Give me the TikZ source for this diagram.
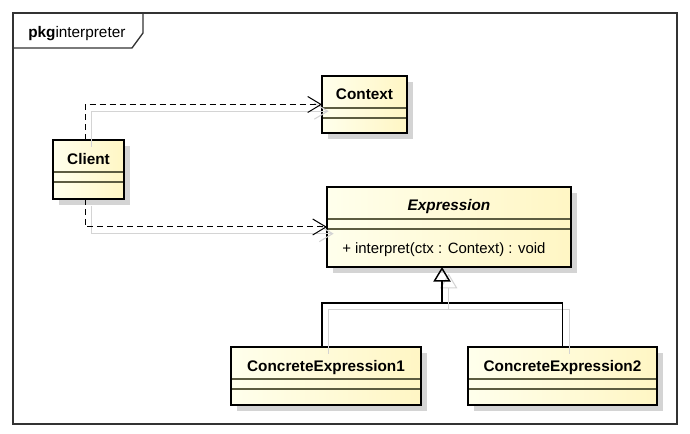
\documentclass[tikz,border=0pt]{standalone}
\usepackage{fontspec}
\setmainfont{Liberation Sans}
\usepackage{xcolor}
\usepackage{tikz}
\usetikzlibrary{arrows.meta,shadows,calc}

\definecolor{clsleft}{RGB}{255,255,236}
\definecolor{clsright}{RGB}{255,246,196}
\definecolor{sepcol}{RGB}{92,92,64}
\definecolor{ghost}{RGB}{212,212,212}

\tikzset{
  classbox/.style={draw=black,line width=2pt,left color=clsleft,right color=clsright,
    inner sep=0pt,outer sep=0pt,
    drop shadow={shadow xshift=4.5pt,shadow yshift=-4.5pt,fill=ghost,opacity=1}},
  compline/.style={draw=sepcol,line width=1.1pt,shorten <=1pt,shorten >=1pt},
  clsname/.style={font=\bfseries\fontsize{11.5}{14}\selectfont,anchor=base,inner sep=0pt},
  ghostline/.style={preaction={draw=ghost,solid,line width=0.8pt,
    transform canvas={shift={(5pt,-5pt)}}}},
  usedep/.style={ghostline,dash pattern=on 4.5pt off 3pt,line width=0.75pt,
    -{Straight Barb[length=10pt,width=12pt]}},
  genline/.style={ghostline,line width=1.1pt},
}

\begin{document}
\begin{tikzpicture}[x=0.75pt,y=-0.75pt,>=latex]
  \useasboundingbox (0,0) rectangle (690,434);
  % package frame
  \draw[black!80,line width=1pt] (13,13) rectangle (677,424);
  \draw[black!80,line width=1pt] (13,48) -- (132,48) -- (143,33) -- (143,13);
  \node[anchor=base west,inner sep=0pt,font=\fontsize{11.5}{14}\selectfont] (pkglabel) at (28,38) {\textbf{pkg}interpreter};

  % classes
  \node[classbox,minimum width=53.25pt,minimum height=44.25pt] (client) at (88.5,169.5) {};
  \node[classbox,minimum width=63.75pt,minimum height=42.75pt] (context) at (364.5,104.5) {};
  \node[classbox,minimum width=183pt,minimum height=60pt] (expr) at (449,227) {};
  \node[classbox,minimum width=142.5pt,minimum height=43.5pt] (conc1) at (326,376) {};
  \node[classbox,minimum width=141.75pt,minimum height=43.5pt] (conc2) at (562.5,376) {};
  \foreach \c in {client,context,expr,conc1,conc2} {
    \draw[compline] ([yshift=-24pt]\c.north west) -- ([yshift=-24pt]\c.north east);
    \draw[compline] ([yshift=-31.5pt]\c.north west) -- ([yshift=-31.5pt]\c.north east);
  }
  \node[clsname] (client-name) at ([yshift=-18.4pt]client.north) {Client};
  \node[clsname] (context-name) at ([yshift=-18pt]context.north) {Context};
  \node[clsname,font=\bfseries\itshape\fontsize{11.5}{14}\selectfont] (expr-name) at ([yshift=-18pt]expr.north) {Expression};
  \node[anchor=base west,inner sep=0pt,font=\fontsize{11.2}{13}\selectfont] (expr-op) at (342,254) {+ interpret(ctx : Context) : void};
  \node[clsname] (conc1-name) at ([yshift=-18.6pt]conc1.north) {ConcreteExpression1};
  \node[clsname] (conc2-name) at ([yshift=-18.6pt]conc2.north) {ConcreteExpression2};

  % dependencies
  \draw[usedep] ([xshift=-2.6pt]client.north) |- (context.west);
  \draw[usedep] ([xshift=-2.6pt]client.south) |- (expr.west);

  % generalization
  \coordinate (join) at (442,303);
  \draw[genline] ([xshift=-3pt]conc1.north) |- (join) -| (conc2.north);
  \draw[genline,-{Triangle[open,length=11pt,width=13pt]}] (join) -- (join |- expr.south);
\end{tikzpicture}
\end{document}
